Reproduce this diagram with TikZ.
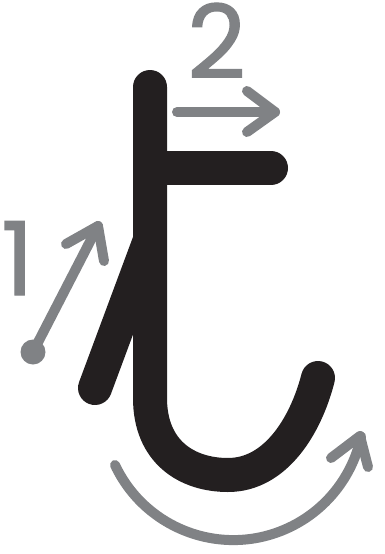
\documentclass[tikz,border=0pt]{standalone}
\usepackage{fontspec}
\setmainfont{Poppins}
\newfontfamily\numfont{Poppins}[FakeBold=1.2]
\definecolor{ink}{HTML}{231F20}
\definecolor{guide}{HTML}{808285}
\begin{document}
\begin{tikzpicture}[x=1pt,y=-1pt,
  letter/.style={draw=ink,line width=34pt,line cap=round,line join=round},
  guideline/.style={draw=guide,line width=10pt,line cap=round,line join=round},
  numeral/.style={text=guide,inner sep=0pt,font=\numfont\fontsize{102}{102}\selectfont}]
\useasboundingbox (0,0) rectangle (384,554);
% letter strokes
\coordinate (stemtop) at (150,87);
\coordinate (stembend) at (150,398);
\coordinate (hookbottom) at (228,475);
\coordinate (hookend) at (318,378);
\coordinate (barleft) at (150,168);
\coordinate (barend) at (271,168);
\coordinate (diagend) at (95,388);
\coordinate (diagtop) at (150,240);
\draw[letter] (stemtop) -- (stembend) .. controls (150,452) and (187,475) .. (hookbottom) .. controls (276,475) and (306,425) .. (hookend);
\draw[letter] (barleft) -- (barend);
\draw[letter] (diagend) -- (diagtop);
% numerals
\node[numeral,anchor=base west] (two) at (187,78) {2};
\node[numeral,anchor=base west] (one) at (1,295) {1};
% guide arrow 1
\coordinate (a1s) at (33,352);
\coordinate (a1t) at (98,226);
\coordinate (a1l) at (66,244);
\coordinate (a1r) at (104,261);
\fill[guide] (a1s) circle (12.5);
\draw[guideline] (a1s) -- (a1t);
\draw[guideline] (a1l) -- (a1t) -- (a1r);
% guide arrow 2
\coordinate (a2s) at (177,112);
\coordinate (a2t) at (275,112);
\coordinate (a2l) at (247,91);
\coordinate (a2r) at (247,132);
\draw[guideline] (a2s) -- (a2t);
\draw[guideline] (a2l) -- (a2t) -- (a2r);
% guide arrow 3
\coordinate (a3s) at (115,465);
\coordinate (a3t) at (360,436);
\coordinate (a3l) at (331,458);
\coordinate (a3r) at (368,467);
\draw[guideline] (a3s) arc (154.8:12:130.7);
\draw[guideline] (a3l) -- (a3t) -- (a3r);
\end{tikzpicture}
\end{document}
